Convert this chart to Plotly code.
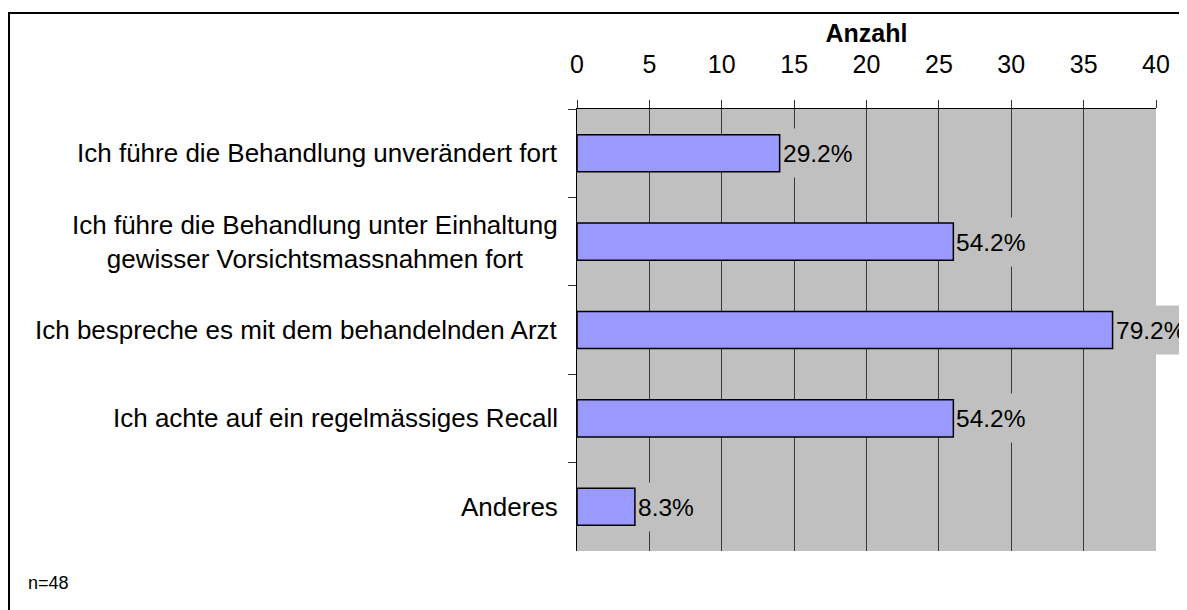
import plotly.graph_objs as go

categories = [
    'Ich führe die Behandlung unverändert fort',
    'Ich führe die Behandlung unter Einhaltung<br>gewisser Vorsichtsmassnahmen fort',
    'Ich bespreche es mit dem behandelnden Arzt',
    'Ich achte auf ein regelmässiges Recall',
    'Anderes',
]
counts = [14, 26, 37, 26, 4]
pct_labels = ['29.2%', '54.2%', '79.2%', '54.2%', '8.3%']
x_ticks = [0, 5, 10, 15, 20, 25, 30, 35, 40]

FONT = 'Liberation Sans, Arial, sans-serif'
GRAY = '#C0C0C0'
FS = 26

bars = go.Bar(
    x=counts,
    y=categories,
    orientation='h',
    width=0.42,
    marker=dict(color='#9999FF', line=dict(color='black', width=1.5)),
    hoverinfo='x+y',
)

annotations = []
# category labels, centred lines like the original
for cat in categories:
    annotations.append(dict(
        x=0, y=cat, xref='x', yref='y', text=cat,
        xanchor='right', yanchor='middle', align='center',
        xshift=-17, showarrow=False,
        font=dict(family=FONT, size=FS, color='black'),
    ))
# value labels with grey box covering the gridlines
for cat, c, lab in zip(categories, counts, pct_labels):
    annotations.append(dict(
        x=c, y=cat, xref='x', yref='y', text=lab,
        xanchor='left', yanchor='middle', align='left',
        xshift=2, showarrow=False, bgcolor=GRAY,
        width=80, height=48, borderpad=0,
        font=dict(family=FONT, size=24.5, color='black'),
    ))
annotations.append(dict(
    x=-0.952, y=-0.072, xref='paper', yref='paper', text='n=48',
    xanchor='left', yanchor='middle', showarrow=False,
    font=dict(family=FONT, size=18, color='black'),
))

# page body adds ~7px offset, margins compensate for it
layout = go.Layout(
    width=1187,
    height=610,
    margin=dict(l=569, r=39, t=101, b=67),
    paper_bgcolor='white',
    plot_bgcolor=GRAY,
    showlegend=False,
    font=dict(family=FONT, size=FS, color='black'),
    xaxis=dict(
        side='top',
        range=[0, 40],
        tickvals=x_ticks,
        ticks='outside', ticklen=8, tickcolor='#333333',
        ticklabelstandoff=17,
        showgrid=True, gridcolor='#3a3a3a', gridwidth=1,
        zeroline=False,
        showline=True, linecolor='black', linewidth=1,
        tickfont=dict(family=FONT, size=25),
        title=dict(text='<b>Anzahl</b>', standoff=0,
                   font=dict(family=FONT, size=25)),
        fixedrange=True,
    ),
    yaxis=dict(
        autorange='reversed',
        showticklabels=False,
        ticks='outside', ticklen=8, tickcolor='#333333',
        tickson='boundaries',
        showgrid=False,
        showline=True, linecolor='black', linewidth=1,
        fixedrange=True,
    ),
    shapes=[dict(
        type='rect', xref='paper', yref='paper',
        x0=-0.981, x1=1.2, y0=-0.3, y1=1.217,
        line=dict(color='black', width=2),
    )],
    annotations=annotations,
)

fig = go.Figure(data=[bars], layout=layout)
fig.write_html('out.html')
